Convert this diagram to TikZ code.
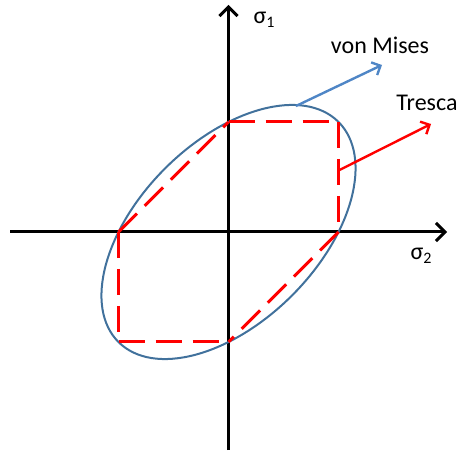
\documentclass[tikz,border=0pt]{standalone}
\usepackage{fontspec}
\setmainfont{Carlito}
\usetikzlibrary{arrows.meta}
\definecolor{vmblue}{HTML}{41719C}
\definecolor{vmarrow}{HTML}{4F86C6}
\definecolor{trred}{HTML}{FF0000}
\tikzset{
  axis/.style={line width=3pt, -{Straight Barb[length=9pt,width=18pt,line width=3pt]}},
  lbl/.style={inner sep=0pt, font=\fontsize{24}{24}\selectfont},
  tresca/.style={trred, line width=3pt, dash pattern=on 26pt off 11pt},
  pointer/.style={line width=2.4pt, -{Straight Barb[length=7pt,width=14pt,line width=2.4pt]}}
}
\begin{document}
\begin{tikzpicture}[x=1pt,y=1pt]
\useasboundingbox (0,0) rectangle (461,453);
% axes
\coordinate (xs) at (10,221);
\coordinate (xe) at (447,221);
\coordinate (ys) at (228.5,3);
\coordinate (ye) at (228.5,448);
\draw[axis] (xs) -- (xe);
\draw[axis] (ys) -- (ye);
\node[lbl] (s1) at (264,433) {σ\raisebox{-0.35ex}{\fontsize{16}{16}\selectfont 1}};
\node[lbl] (s2) at (421,197) {σ\raisebox{-0.35ex}{\fontsize{16}{16}\selectfont 2}};
% von Mises ellipse
\coordinate (c) at (228.5,221);
\draw[vmblue, line width=2pt, rotate around={45:(c)}] (c) ellipse [x radius=155.6, y radius=89.8];
% Tresca hexagon
\coordinate (t1) at (228.5,331);
\coordinate (t2) at (338.5,331);
\coordinate (t3) at (338.5,221);
\coordinate (t4) at (228.5,111);
\coordinate (t5) at (118.5,111);
\coordinate (t6) at (118.5,221);
\draw[tresca] (t1) -- (t2);
\draw[tresca] (t2) -- (t3);
\draw[tresca] (t3) -- (t4);
\draw[tresca] (t5) -- (t4);
\draw[tresca] (t6) -- (t5);
\draw[tresca] (t6) -- (t1);
% labels
\node[lbl] (vm) at (380,408) {von Mises};
\node[lbl] (tr) at (427,350) {Tresca};
\coordinate (vmstart) at (296,347);
\coordinate (vmtip) at (382,388);
\draw[pointer, vmarrow] (vmstart) -- (vmtip);
\coordinate (trstart) at (339.5,283);
\coordinate (trtip) at (431,329);
\draw[pointer, trred] (trstart) -- (trtip);
\end{tikzpicture}
\end{document}
